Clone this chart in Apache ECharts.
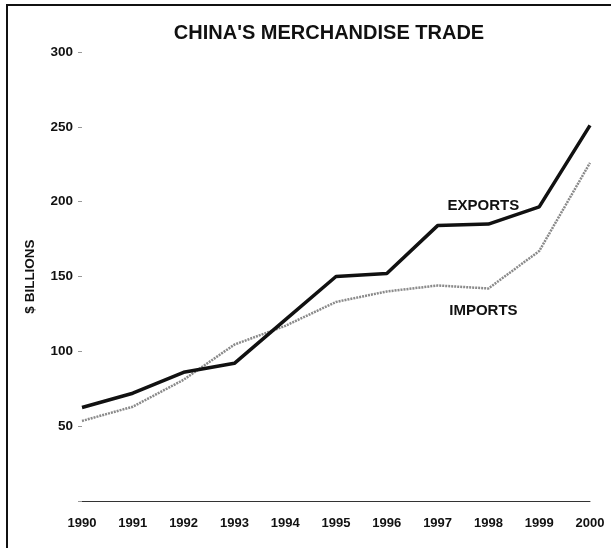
<!DOCTYPE html>
<html>
<head>
<meta charset="utf-8">
<script src="https://cdn.jsdelivr.net/npm/echarts@6/dist/echarts.min.js"></script>
<style>
  html, body { margin: 0; padding: 0; background: #fff; }
  #frame { position: absolute; left: 6px; top: 4px; width: 605px; height: 544px;
           border-left: 2px solid #111; border-top: 2px solid #111; box-sizing: border-box; }
  #chart { position: absolute; left: 0; top: 0; width: 611px; height: 548px; }
</style>
</head>
<body>
<div id="frame"></div>
<div id="chart"></div>
<script>
// China's merchandise trade, $ billions
const years = ['1990', '1991', '1992', '1993', '1994', '1995', '1996', '1997', '1998', '1999', '2000'];
const exportsData = [62.5, 72, 86, 92, 121, 150, 152, 184, 185, 196.5, 251];
const importsData = [53.5, 63, 81, 104.5, 117, 133, 140, 144, 142, 167, 226];
const yTicks = [0, 50, 100, 150, 200, 250, 300];
const labelIndex = 8; // series names are written next to the 1998 points

const font = '"Liberation Sans", Arial, sans-serif';
const chart = echarts.init(document.getElementById('chart'), null, { renderer: 'canvas' });

function withNameLabel(values, name, position, distance) {
  return values.map((v, i) => i === labelIndex ? {
    value: v,
    label: { show: true, position: position, distance: distance, padding: [0, 10, 0, 0], formatter: name }
  } : v);
}

chart.setOption({
  animation: false,
  title: {
    text: "CHINA'S MERCHANDISE TRADE",
    left: 324, top: 18, textAlign: 'center',
    textStyle: { fontFamily: font, fontSize: 20, fontWeight: 'bold', color: '#111' }
  },
  grid: { left: 82, right: 21, top: 52, bottom: 47 },
  xAxis: {
    type: 'category',
    data: years,
    boundaryGap: false,
    axisLine: { lineStyle: { color: '#333', width: 1 } },
    axisTick: { show: false },
    axisLabel: { margin: 16, fontFamily: font, fontSize: 13, fontWeight: 'bold', color: '#111' }
  },
  yAxis: {
    type: 'value',
    min: yTicks[0], max: yTicks[yTicks.length - 1], interval: 50,
    name: '$ BILLIONS',
    nameLocation: 'middle', nameRotate: 90, nameGap: 45,
    nameTextStyle: { fontFamily: font, fontSize: 13.5, fontWeight: 'bold', color: '#111' },
    axisLine: { show: false },
    axisTick: { show: true, length: 4, lineStyle: { color: '#999' } },
    splitLine: { show: false },
    axisLabel: {
      margin: 9, fontFamily: font, fontSize: 13.5, fontWeight: 'bold', color: '#111',
      formatter: v => (v === 0 ? '' : String(v))
    }
  },
  series: [
    {
      name: 'EXPORTS',
      type: 'line',
      data: withNameLabel(exportsData, 'EXPORTS', 'top', 10),
      symbol: 'circle', symbolSize: 1, showSymbol: true,
      itemStyle: { color: 'rgba(0,0,0,0)', borderWidth: 0 },
      lineStyle: { color: '#111', width: 3.5 },
      label: { fontFamily: font, fontSize: 15, fontWeight: 'bold', color: '#111' },
      labelLayout: { hideOverlap: false },
      z: 3
    },
    {
      name: 'IMPORTS',
      type: 'line',
      data: withNameLabel(importsData, 'IMPORTS', 'bottom', 14),
      symbol: 'circle', symbolSize: 1, showSymbol: true,
      itemStyle: { color: 'rgba(0,0,0,0)', borderWidth: 0 },
      lineStyle: { color: '#8a8a8a', width: 2.5, type: [2, 1] },
      label: { fontFamily: font, fontSize: 15, fontWeight: 'bold', color: '#111' },
      labelLayout: { hideOverlap: false },
      z: 2
    }
  ]
});
</script>
</body>
</html>
